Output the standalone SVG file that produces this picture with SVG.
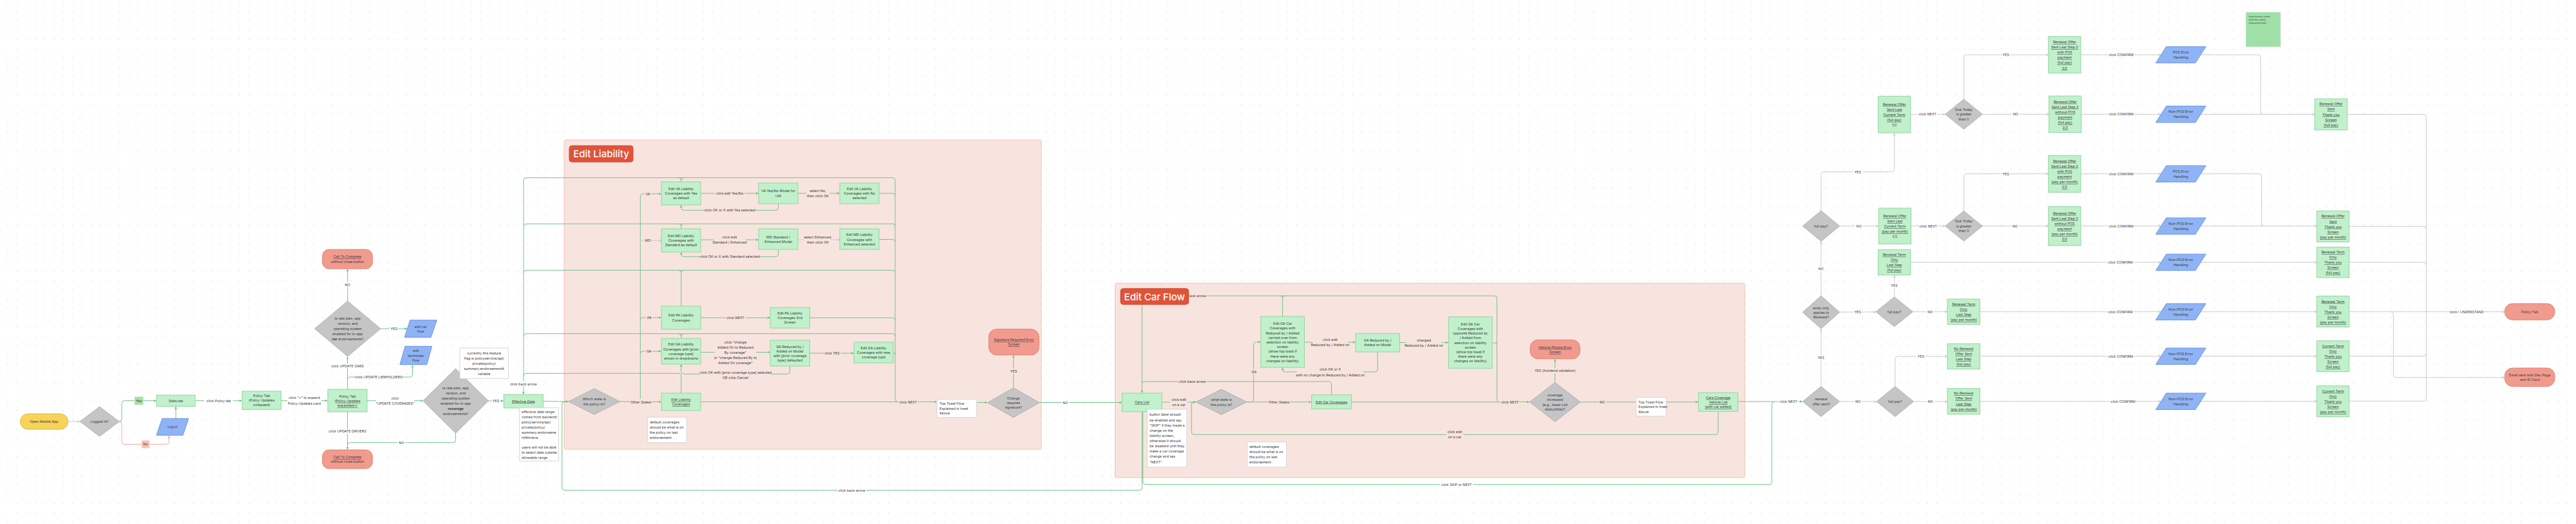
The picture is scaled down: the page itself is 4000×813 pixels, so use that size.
<svg xmlns="http://www.w3.org/2000/svg" width="4000" height="813" viewBox="0 0 4000 813">
<defs>
<style>
.t{font-family:Inter,"Liberation Sans",sans-serif;font-size:5.4px;fill:#3a3a3a;text-anchor:middle;dominant-baseline:central}
.s{text-anchor:start}
.u{text-decoration:underline}
.b{font-weight:700}
.nd{fill:#c0f1cb;stroke:#93d4a3;stroke-width:1}
.rd{fill:#f19b8e;stroke:#e3826f;stroke-width:1}
.dm{fill:#c5c5c5;stroke:#b2b2b2;stroke-width:1}
.bl{fill:#8fb4f6;stroke:#6c94e6;stroke-width:1}
.nt{fill:#fff;stroke:#d6d6d6;stroke-width:1}
.g{fill:none;stroke:#72c48b;stroke-width:1}
.gr{fill:none;stroke:#cbcbcb;stroke-width:1}
.rl{fill:none;stroke:#f2a99c;stroke-width:1}
.lw{fill:#fff}
.lp{fill:#f8e4de}
.area{fill:#f8e4de;stroke:#f5c0b2;stroke-width:1}
.ttlb{fill:#e0533a;stroke:#d24a32;stroke-width:1}
.ttl{font-family:Inter,"Liberation Sans",sans-serif;font-size:15px;font-weight:500;fill:#fff;text-anchor:middle;dominant-baseline:central}
</style>
<pattern id="dots" width="14.4" height="14.4" patternUnits="userSpaceOnUse" x="11" y="2.5"><circle cx="1" cy="1" r="0.7" fill="#d2d2d2"/></pattern>
<marker id="ag" viewBox="0 0 6 6" refX="5.5" refY="3" markerWidth="4" markerHeight="4" orient="auto" markerUnits="userSpaceOnUse"><path d="M0,0 L6,3 L0,6 z" fill="#72c48b"/></marker>
<marker id="ak" viewBox="0 0 6 6" refX="5.5" refY="3" markerWidth="4.5" markerHeight="4.5" orient="auto" markerUnits="userSpaceOnUse"><path d="M0.5,0.5 L5.5,3 L0.5,5.5" fill="none" stroke="#bdbdbd" stroke-width="1"/></marker>
<marker id="ar" viewBox="0 0 6 6" refX="5.5" refY="3" markerWidth="4" markerHeight="4" orient="auto" markerUnits="userSpaceOnUse"><path d="M0,0 L6,3 L0,6 z" fill="#f2a394"/></marker>
</defs>
<rect width="4000" height="813" fill="#fff"/>
<rect width="4000" height="813" fill="url(#dots)"/>

<g id="area-edit-liability"><rect class="area" x="876" y="217" width="741" height="480" rx="3"/></g>
<g id="area-edit-car-flow"><rect class="area" x="1731.5" y="439.3" width="977.8" height="301.7" rx="3"/></g>

<g id="connectors">
<!-- left -->
<path class="gr" d="M105.7,654 L123.5,654" marker-end="url(#ak)"/>
<path class="g" d="M185.1,654 Q189,654 189,650 L189,625.7 Q189,621.7 193,621.7 L242.5,621.7" marker-end="url(#ag)"/>
<path class="rl" d="M185.1,654 Q189,654 189,658 L189,685.3 Q189,689.3 193,689.3 L258.5,689.3 Q262.5,689.3 262.5,685.3 L262.5,676" marker-end="url(#ar)"/>
<path class="g" d="M273,649.3 L273,631" marker-end="url(#ag)"/>
<path class="g" d="M303,621.7 L375.5,621.7" marker-end="url(#ag)"/>
<path class="g" d="M436.4,621.7 L508.5,621.7" marker-end="url(#ag)"/>
<path class="g" d="M539.5,604 L539.5,553.5" marker-end="url(#ag)"/>
<path class="g" d="M539.5,590 Q539.5,585 544.5,585 L636.5,585 Q640.5,585 640.5,581 L640.5,566.5" marker-end="url(#ag)"/>
<path class="g" d="M539.8,467 L539.8,417.5" marker-end="url(#ag)"/>
<path class="g" d="M591,510 L632,510" marker-end="url(#ag)"/>
<path class="g" d="M539.5,639 L539.5,697.5" marker-end="url(#ag)"/>
<path class="g" d="M570,621.7 L656.2,621.7" marker-end="url(#ag)"/>
<path class="g" d="M707.5,672 L707.5,682.7 Q707.5,686.7 703.5,686.7 L543.5,686.7 Q539.5,686.7 539.5,690.7"/>
<path class="g" d="M758.3,622 L781.8,622" marker-end="url(#ag)"/>
<path class="g" d="M843.3,622.5 L882.2,623" marker-end="url(#ag)"/>
<!-- liability back lines -->
<path class="g" d="M1390,620 L1390,279.7 Q1390,275.7 1386,275.7 L817,275.7 Q813,275.7 813,279.7 L813,611.5" marker-end="url(#ag)"/>
<path class="g" d="M1390,351.3 Q1390,347.3 1386,347.3 L817,347.3 Q813,347.3 813,351.3"/>
<path class="g" d="M1390,423.3 Q1390,419.3 1386,419.3 L817,419.3 Q813,419.3 813,423.3"/>
<path class="g" d="M1390,521.7 Q1390,517.7 1386,517.7 L817,517.7 Q813,517.7 813,521.7"/>
<path class="g" d="M1057.7,610 L1057.7,583.3 Q1057.7,579.3 1053.7,579.3 L817,579.3 Q813,579.3 813,583.3"/>
<path class="g" d="M1057.7,282 L1057.7,279.7 Q1057.7,275.7 1053.7,275.7 M1057.7,279.7 Q1057.7,275.7 1061.7,275.7"/>
<path class="g" d="M1057.7,355 L1057.7,351.3 Q1057.7,347.3 1053.7,347.3 M1057.7,351.3 Q1057.7,347.3 1061.7,347.3"/>
<path class="g" d="M1057.7,475 L1057.7,423.3 Q1057.7,419.3 1053.7,419.3 M1057.7,423.3 Q1057.7,419.3 1061.7,419.3"/>
<path class="g" d="M1057.7,525 L1057.7,521.7 Q1057.7,517.7 1053.7,517.7 M1057.7,521.7 Q1057.7,517.7 1061.7,517.7"/>
<path class="g" d="M1365,300 L1386,300 Q1390,300 1390,304"/>
<path class="g" d="M1365,371.5 L1386,371.5 Q1390,371.5 1390,375.5"/>
<path class="g" d="M1257.3,493 L1386,493 Q1390,493 1390,497"/>
<path class="g" d="M1387,547 Q1390,547 1390,551"/>
<path class="g" d="M1390,619.5 Q1390,623.5 1394,623.5"/>
<!-- state branches -->
<path class="g" d="M994.3,619 L994.3,304.7 Q994.3,300.7 998.3,300.7 L1026.5,300.7" marker-end="url(#ag)"/>
<path class="gr" d="M994.3,377.3 Q994.3,373.3 998.3,373.3 L1026.5,373.3" marker-end="url(#ak)"/>
<path class="g" d="M994.3,496.7 Q994.3,492.7 998.3,492.7 L1026.5,492.7" marker-end="url(#ag)"/>
<path class="g" d="M994.3,549 Q994.3,545 998.3,545 L1026.5,545" marker-end="url(#ag)"/>
<path class="g" d="M962.7,623 L1026.5,623.5" marker-end="url(#ag)"/>
<!-- liability rows -->
<path class="g" d="M1088,300 L1177.5,300" marker-end="url(#ag)"/>
<path class="g" d="M1239,300 L1303.5,300" marker-end="url(#ag)"/>
<path class="g" d="M1208.5,316 L1208.5,322.3 Q1208.5,326.3 1204.5,326.3 L1061.7,326.3 Q1057.7,326.3 1057.7,322.3 L1057.7,318.5" marker-end="url(#ag)"/>
<path class="g" d="M1088,372 L1177.5,372" marker-end="url(#ag)"/>
<path class="gr" d="M1239,372 L1303.5,372" marker-end="url(#ak)"/>
<path class="g" d="M1208.5,387 L1208.5,394.3 Q1208.5,398.3 1204.5,398.3 L1061.7,398.3 Q1057.7,398.3 1057.7,394.3 L1057.7,391.5" marker-end="url(#ag)"/>
<path class="g" d="M1088,493 L1195.5,493" marker-end="url(#ag)"/>
<path class="g" d="M1088,546.5 L1195.5,546.5" marker-end="url(#ag)"/>
<path class="g" d="M1257,548 L1325.5,548" marker-end="url(#ag)"/>
<path class="g" d="M1226.5,568 L1226.5,576.3 Q1226.5,580.3 1222.5,580.3 L1061.7,580.3 Q1057.7,580.3 1057.7,576.3 L1057.7,565.5" marker-end="url(#ag)"/>
<path class="g" d="M1088,623.5 L1454.5,623.5" marker-end="url(#ag)"/>
<path class="g" d="M1516.3,624.5 L1533,624.5" marker-end="url(#ag)"/>
<path class="g" d="M1573.7,601.7 L1573.7,551.2" marker-end="url(#ag)"/>
<path class="g" d="M1614,624.5 L1742,624.5" marker-end="url(#ag)"/>
<!-- bottom back arrow -->
<path class="g" d="M1773.3,639 L1773.3,756.7 Q1773.3,760.7 1769.3,760.7 L876.7,760.7 Q872.7,760.7 872.7,756.7 L872.7,627 Q872.7,623 876.7,623 L882.2,623" marker-end="url(#ag)"/>
<!-- car region -->
<path class="g" d="M2324.5,619.5 L2324.5,463 Q2324.5,459 2320.5,459 L1777.3,459 Q1773.3,459 1773.3,463 L1773.3,609.5" marker-end="url(#ag)"/>
<path class="g" d="M1991.6,491 L1991.6,463 Q1991.6,459 1987.6,459 M1991.6,463 Q1991.6,459 1995.6,459"/>
<path class="g" d="M2317,531.7 L2320.5,531.7 Q2324.5,531.7 2324.5,535.7"/>
<path class="g" d="M2324.5,619.5 Q2324.5,623.6 2328.5,623.6"/>
<path class="g" d="M1804.2,624 L1856.7,624" marker-end="url(#ag)"/>
<path class="g" d="M1936,623.7 L1942.6,623.7 Q1946.6,623.7 1946.6,619.7 L1946.6,534.7 Q1946.6,530.7 1950.6,530.7 L1957.3,530.7" marker-end="url(#ag)"/>
<path class="g" d="M1936,623.7 L2036.2,623.7" marker-end="url(#ag)"/>
<path class="g" d="M2025.5,531 L2104.5,531" marker-end="url(#ag)"/>
<path class="g" d="M2139.2,546 L2139.2,573 Q2139.2,577 2135.2,577 L1995.6,577 Q1991.6,577 1991.6,573 L1991.6,570.5" marker-end="url(#ag)"/>
<path class="g" d="M2173.5,531.5 L2248.9,531.5" marker-end="url(#ag)"/>
<path class="g" d="M2067.6,612.7 L2067.6,596 Q2067.6,592 2063.6,592 L1777.3,592 Q1773.3,592 1773.3,596"/>
<path class="g" d="M2098.5,623.6 L2374.6,623.6" marker-end="url(#ag)"/>
<path class="g" d="M2414.6,593.3 L2414.6,557.2" marker-end="url(#ag)"/>
<path class="g" d="M2454.1,623.8 L2636.8,623.8" marker-end="url(#ag)"/>
<path class="g" d="M2668,638.3 L2668,670.3 Q2668,674.3 2664,674.3 L1854.1,674.3 Q1850.1,674.3 1850.1,670.3 L1850.1,627.7 Q1850.1,623.7 1854.1,623.7 L1856.7,623.7" marker-end="url(#ag)"/>
<path class="g" d="M2698.6,623 L2798.6,623" marker-end="url(#ag)"/>
<path class="g" d="M1774.7,639 L1774.7,747.7 Q1774.7,751.7 1778.7,751.7 L2747.3,751.7 Q2751.3,751.7 2751.3,747.7 L2751.3,627 Q2751.3,623 2755.3,623"/>
<!-- right region gray -->
<path class="gr" d="M2827.8,327 L2827.8,270.7 Q2827.8,266.7 2831.8,266.7 L2937.5,266.7 Q2941.5,266.7 2941.5,262.7 L2941.5,206.8" marker-end="url(#ak)"/>
<path class="gr" d="M2856.5,350.7 L2916.5,350.7" marker-end="url(#ak)"/>
<path class="gr" d="M2966.6,177.4 L3020,177.4" marker-end="url(#ak)"/>
<path class="gr" d="M2967.4,350.7 L3020,350.7" marker-end="url(#ak)"/>
<path class="gr" d="M3049.4,154 L3049.4,89 Q3049.4,85 3053.4,85 L3180.3,85" marker-end="url(#ak)"/>
<path class="gr" d="M3078.3,177.3 L3181.1,177.3" marker-end="url(#ak)"/>
<path class="gr" d="M3049.4,327.3 L3049.4,273.7 Q3049.4,269.7 3053.4,269.7 L3180.3,269.7" marker-end="url(#ak)"/>
<path class="gr" d="M3078.3,350.7 L3180.3,350.7" marker-end="url(#ak)"/>
<path class="gr" d="M2827.8,459 L2827.8,375" marker-end="url(#ak)"/>
<path class="gr" d="M2827.8,599.6 L2827.8,510.6" marker-end="url(#ak)"/>
<path class="gr" d="M2856.5,484.2 L2912.3,484" marker-end="url(#ak)"/>
<path class="gr" d="M2941.5,460.7 L2941.5,427.3" marker-end="url(#ak)"/>
<path class="gr" d="M2970.2,483.7 L3023.5,483.7" marker-end="url(#ak)"/>
<path class="gr" d="M2856.5,623 L2913.5,623" marker-end="url(#ak)"/>
<path class="gr" d="M2942.7,599.6 L2942.7,557 Q2942.7,553 2946.7,553 L3023.5,553" marker-end="url(#ak)"/>
<path class="gr" d="M2971.4,623 L3023.5,623" marker-end="url(#ak)"/>
<path class="gr" d="M3231,85 L3355,85" marker-end="url(#ak)"/>
<path class="gr" d="M3231.8,177.3 L3355,177.3" marker-end="url(#ak)"/>
<path class="gr" d="M3231,269.7 L3355,269.7" marker-end="url(#ak)"/>
<path class="gr" d="M3231,350.7 L3355,350.7" marker-end="url(#ak)"/>
<path class="gr" d="M2966.6,407 L3355,407" marker-end="url(#ak)"/>
<path class="gr" d="M3074.3,483.7 L3355,483.7" marker-end="url(#ak)"/>
<path class="gr" d="M3074.3,552.7 L3355,552.7" marker-end="url(#ak)"/>
<path class="gr" d="M3074.3,622.7 L3355,622.7" marker-end="url(#ak)"/>
<path class="gr" d="M3417,85 L3506.2,85 Q3510.2,85 3510.2,89 L3510.2,173.3 Q3510.2,177.3 3514.2,177.3"/>
<path class="gr" d="M3401,177.3 L3593.8,177.3" marker-end="url(#ak)"/>
<path class="gr" d="M3417,269.7 L3507.8,269.7 Q3511.8,269.7 3511.8,273.7 L3511.8,346.7 Q3511.8,350.7 3515.8,350.7"/>
<path class="gr" d="M3401,350.7 L3597.1,350.7" marker-end="url(#ak)"/>
<path class="gr" d="M3401,407 L3597.1,407" marker-end="url(#ak)"/>
<path class="gr" d="M3401,483.7 L3597.1,483.7" marker-end="url(#ak)"/>
<path class="gr" d="M3401,552.7 L3597.1,552.7" marker-end="url(#ak)"/>
<path class="gr" d="M3401,622.7 L3597.1,622.7" marker-end="url(#ak)"/>
<path class="gr" d="M3767.4,181.5 L3767.4,618.3"/>
<path class="gr" d="M3644.9,177.5 L3763.4,177.5 Q3767.4,177.5 3767.4,181.5"/>
<path class="gr" d="M3647.8,351.3 L3763.4,351.3 Q3767.4,351.3 3767.4,355.3"/>
<path class="gr" d="M3647.8,407 L3763.4,407 Q3767.4,407 3767.4,411"/>
<path class="gr" d="M3647.8,483.7 L3888.9,483.7" marker-end="url(#ak)"/>
<path class="gr" d="M3647.8,552.7 L3763.4,552.7 Q3767.4,552.7 3767.4,548.7"/>
<path class="gr" d="M3647.8,622.3 L3763.4,622.3 Q3767.4,622.3 3767.4,618.3"/>
<path class="gr" d="M3712.4,483.7 Q3716.4,483.7 3716.4,487.7 L3716.4,581.7 Q3716.4,585.7 3720.4,585.7 L3888.9,585.7" marker-end="url(#ak)"/>

<!-- labels -->
<rect x="209" y="615.5" width="13.5" height="12.5" fill="#a6e2a6"/><text class="t" x="215.7" y="621.7">Yes</text>
<rect x="220" y="683.3" width="12" height="12" fill="#f9c3b8"/><text class="t" x="226" y="689.3">No</text>
<rect class="lw" x="317" y="618" width="45" height="7.5"/><text class="t" x="339.6" y="621.7">click Policy tab</text>
<rect class="lw" x="446" y="613.5" width="53" height="16"/><text class="t" x="472.5" y="617.3">click "+" to expand</text><text class="t" x="472.5" y="625.7">Policy Updates card</text>
<rect class="lw" x="513" y="564" width="53" height="7.5"/><text class="t" x="539.5" y="567.7">click UPDATE CARS</text>
<rect class="lw" x="552" y="581.3" width="72" height="7.5"/><text class="t" x="588" y="585">click UPDATE LIENHOLDERS</text>
<rect class="lw" x="534" y="438" width="11" height="7.5"/><text class="t" x="539.5" y="441.7">NO</text>
<rect class="lw" x="605" y="506.3" width="13" height="7.5"/><text class="t" x="611.7" y="510">YES</text>
<rect class="lw" x="509" y="665.6" width="61" height="7.5"/><text class="t" x="539.5" y="669.3">click UPDATE DRIVERS</text>
<rect class="lw" x="584" y="614.3" width="59" height="16"/><text class="t" x="613.3" y="618.3">click</text><text class="t" x="613.3" y="626.3">"UPDATE COVERAGES"</text>
<rect class="lw" x="617.5" y="683" width="11.5" height="7.5"/><text class="t" x="623.3" y="686.7">NO</text>
<rect class="lw" x="763.5" y="618" width="13" height="7.5"/><text class="t" x="770" y="621.7">YES</text>
<rect class="lw" x="790.5" y="592" width="44.5" height="7.5"/><text class="t" x="812.7" y="595.7">click back arrow</text>
<rect class="lp" x="1001" y="297" width="10" height="7.5"/><text class="t" x="1006" y="300.7">VA</text>
<rect class="lp" x="1000.5" y="369.6" width="11" height="7.5"/><text class="t" x="1006" y="373.3">MD</text>
<rect class="lp" x="1003" y="489" width="10.5" height="7.5"/><text class="t" x="1008.3" y="492.7">PA</text>
<rect class="lp" x="1002.5" y="541.3" width="10.5" height="7.5"/><text class="t" x="1007.7" y="545">GA</text>
<rect class="lp" x="978.5" y="619.8" width="33" height="7.5"/><text class="t" x="995" y="623.5">Other States</text>
<rect class="lp" x="1110" y="296.3" width="46" height="7.5"/><text class="t" x="1133" y="300">click edit Yes/No</text>
<rect class="lp" x="1252" y="292" width="36" height="16"/><text class="t" x="1270" y="296">select No,</text><text class="t" x="1270" y="304">then click OK</text>
<rect class="lp" x="1093" y="322.6" width="80" height="7.5"/><text class="t" x="1133" y="326.3">click OK or X with Yes selected</text>
<rect class="lp" x="1108" y="364" width="50" height="16"/><text class="t" x="1133" y="368">click edit</text><text class="t" x="1133" y="376">Standard / Enhanced</text>
<rect class="lp" x="1248" y="364" width="44" height="16"/><text class="t" x="1270" y="368">select Enhanced,</text><text class="t" x="1270" y="376">then click OK</text>
<rect class="lp" x="1087" y="394.6" width="92" height="7.5"/><text class="t" x="1133" y="398.3">click OK or X with Standard selected</text>
<rect class="lp" x="1127" y="489.3" width="30" height="7.5"/><text class="t" x="1142" y="493">click NEXT</text>
<rect class="lp" x="1110" y="527" width="64" height="40"/>
<text class="t" x="1142" y="530.7">click "change</text><text class="t" x="1142" y="538.7">Added On to Reduced</text><text class="t" x="1142" y="546.7">By coverage"</text><text class="t" x="1142" y="555">or "change Reduced By to</text><text class="t" x="1142" y="563">Added On coverage"</text>
<rect class="lp" x="1086" y="574" width="112" height="16"/><text class="t" x="1142" y="578">click OK with [prior coverage type] selected</text><text class="t" x="1142" y="586">OR click Cancel</text>
<rect class="lp" x="1279" y="544.3" width="26" height="7.5"/><text class="t" x="1292" y="548">click YES</text>
<rect class="lp" x="1395" y="619.8" width="30" height="7.5"/><text class="t" x="1410" y="623.5">click NEXT</text>
<rect class="lp" x="1567.5" y="572" width="13" height="7.5"/><text class="t" x="1574" y="575.7">YES</text>
<rect class="lw" x="1648.5" y="620.8" width="12" height="7.5"/><text class="t" x="1654.4" y="624.5">NO</text>
<rect class="lp" x="1830" y="455.3" width="44" height="7.5"/><text class="t" x="1852" y="459">click back arrow</text>
<rect class="lp" x="1829.5" y="588.3" width="44" height="7.5"/><text class="t" x="1851.5" y="592">click back arrow</text>
<rect class="lp" x="1817" y="616" width="27" height="16"/><text class="t" x="1830.5" y="620">click edit</text><text class="t" x="1830.5" y="628">on a car</text>
<rect class="lp" x="1942" y="573.3" width="10.5" height="7.5"/><text class="t" x="1947.3" y="577">GA</text>
<rect class="lp" x="1969.5" y="620" width="33" height="7.5"/><text class="t" x="1985.9" y="623.7">Other States</text>
<rect class="lp" x="2038" y="523" width="55" height="16"/><text class="t" x="2065.5" y="527">click edit</text><text class="t" x="2065.5" y="535">Reduced by / Added on</text>
<rect class="lp" x="2014" y="569.3" width="103" height="16"/><text class="t" x="2065.5" y="573.3">click OK or X</text><text class="t" x="2065.5" y="581.7">with no change to Reduced by / Added on</text>
<rect class="lp" x="2183.5" y="523.7" width="55" height="16"/><text class="t" x="2211" y="527.7">changed</text><text class="t" x="2211" y="535.7">Reduced by / Added on</text>
<rect class="lp" x="2329.5" y="620" width="30" height="7.5"/><text class="t" x="2344.7" y="623.7">click NEXT</text>
<rect class="lp" x="2382" y="571.3" width="65" height="7.5"/><text class="t" x="2414.7" y="575">YES (frontend validation)</text>
<rect class="lp" x="2482" y="620" width="12" height="7.5"/><text class="t" x="2487.8" y="623.7">NO</text>
<rect class="lp" x="2245.5" y="666.3" width="27" height="16"/><text class="t" x="2258.9" y="670.3">click edit</text><text class="t" x="2258.9" y="678.3">on a car</text>
<rect class="lw" x="2236" y="748.3" width="51.5" height="7.5"/><text class="t" x="2261.7" y="752">click SKIP or NEXT</text>
<rect class="lw" x="1300.5" y="757" width="44.5" height="7.5"/><text class="t" x="1322.7" y="760.7">click back arrow</text>
<rect class="lw" x="2762" y="619.3" width="30" height="7.5"/><text class="t" x="2777" y="623">click NEXT</text>
<!-- right labels -->
<rect class="lw" x="2878" y="263" width="13" height="7.5"/><text class="t" x="2884.6" y="266.7">YES</text>
<rect class="lw" x="2880.5" y="347" width="12" height="7.5"/><text class="t" x="2886.7" y="350.7">NO</text>
<rect class="lw" x="2978" y="173.6" width="30" height="7.5"/><text class="t" x="2993" y="177.3">click NEXT</text>
<rect class="lw" x="2979" y="347" width="30" height="7.5"/><text class="t" x="2994" y="350.7">click NEXT</text>
<rect class="lw" x="3108" y="81.3" width="13" height="7.5"/><text class="t" x="3114.5" y="85">YES</text>
<rect class="lw" x="3123.8" y="173.6" width="12" height="7.5"/><text class="t" x="3129.8" y="177.3">NO</text>
<rect class="lw" x="3108" y="266" width="13" height="7.5"/><text class="t" x="3114.5" y="269.7">YES</text>
<rect class="lw" x="3123" y="347" width="12" height="7.5"/><text class="t" x="3129" y="350.7">NO</text>
<rect class="lw" x="2821.6" y="413.3" width="12" height="7.5"/><text class="t" x="2827.6" y="417">NO</text>
<rect class="lw" x="2821" y="551.3" width="13" height="7.5"/><text class="t" x="2827.6" y="555">YES</text>
<rect class="lw" x="2878" y="480.5" width="13" height="7.5"/><text class="t" x="2884.6" y="484.2">YES</text>
<rect class="lw" x="2934.8" y="439.6" width="13" height="7.5"/><text class="t" x="2941.3" y="443.3">YES</text>
<rect class="lw" x="2991" y="480" width="12" height="7.5"/><text class="t" x="2997" y="483.7">NO</text>
<rect class="lw" x="2879" y="619.3" width="12" height="7.5"/><text class="t" x="2885" y="623">NO</text>
<rect class="lw" x="2976" y="549.3" width="13" height="7.5"/><text class="t" x="2982.7" y="553">YES</text>
<rect class="lw" x="2991.6" y="619.3" width="12" height="7.5"/><text class="t" x="2997.6" y="623">NO</text>
<rect class="lw" x="3273" y="81.3" width="41" height="7.5"/><text class="t" x="3293.7" y="85">click CONFIRM</text>
<rect class="lw" x="3273" y="173.6" width="41" height="7.5"/><text class="t" x="3293.7" y="177.3">click CONFIRM</text>
<rect class="lw" x="3273" y="266" width="41" height="7.5"/><text class="t" x="3293.7" y="269.7">click CONFIRM</text>
<rect class="lw" x="3273" y="347" width="41" height="7.5"/><text class="t" x="3293.7" y="350.7">click CONFIRM</text>
<rect class="lw" x="3272" y="403.3" width="41" height="7.5"/><text class="t" x="3292.5" y="407">click CONFIRM</text>
<rect class="lw" x="3272" y="480" width="41" height="7.5"/><text class="t" x="3292.5" y="483.7">click CONFIRM</text>
<rect class="lw" x="3272.5" y="549" width="41" height="7.5"/><text class="t" x="3293" y="552.7">click CONFIRM</text>
<rect class="lw" x="3276" y="619" width="41" height="7.5"/><text class="t" x="3296.5" y="622.7">click CONFIRM</text>
<rect class="lw" x="3804" y="480" width="53" height="7.5"/><text class="t" x="3830.2" y="483.7">click I UNDERSTAND</text>
</g>

<!-- LEFT NODES -->
<g id="n-open-app"><rect x="31.4" y="642" width="74.3" height="24" rx="12" fill="#f7d35a" stroke="#dfb93f"/><text class="t" x="68.5" y="654">Open Mobile App</text></g>
<g id="n-logged-in"><polygon class="dm" points="124.1,654 154.6,631 185.1,654 154.6,677"/><text class="t" x="154.6" y="654">Logged in?</text></g>
<g id="n-stats-tab"><rect class="nd" x="243" y="613" width="60" height="17.4"/><text class="t" x="273" y="621.7">Stats tab</text></g>
<g id="n-log-in"><polygon class="bl" points="251.8,649.3 292.9,649.3 284,675.3 242.9,675.3"/><text class="t" x="268" y="662.3">Log in</text></g>
<g id="n-policy-collapsed"><rect class="nd" x="376" y="607" width="60.4" height="28.4"/><text class="t" x="406.2" y="614">Policy Tab</text><text class="t" x="406.2" y="621.2">(Policy Updates</text><text class="t" x="406.2" y="628.4">collapsed)</text></g>
<g id="n-policy-expanded"><rect class="nd" x="509" y="604" width="61" height="35"/><text class="t" x="539.5" y="614.5">Policy Tab</text><text class="t" x="539.5" y="621.8"><tspan>(</tspan><tspan class="u">Policy Updates</tspan></text><text class="t u" x="539.5" y="629.2">expanded+)</text></g>
<g id="n-call-top"><rect class="rd" x="500.7" y="387" width="77.6" height="30" rx="10"/><text class="t u" x="539.5" y="398.3">Call To Complete</text><text class="t" x="539.5" y="405.7">without close button</text></g>
<g id="n-car-enabled"><polygon class="dm" points="488.6,510 539.8,467 591,510 539.8,553"/><text class="t" x="539.8" y="494">Is rate plan, app</text><text class="t" x="539.8" y="502">version, and</text><text class="t" x="539.8" y="510.2">operating system</text><text class="t" x="539.8" y="518.2">enabled for in-app</text><text class="t" x="539.8" y="526"><tspan class="b">car</tspan> endorsements?</text></g>
<g id="n-edit-car-flow"><polygon class="bl" points="636.7,496.7 678.3,496.7 669.3,523.3 628.3,523.3"/><text class="t" x="653.3" y="506.7">edit car</text><text class="t" x="653.3" y="514">flow</text></g>
<g id="n-edit-lienholder"><polygon class="bl" points="629,537.3 670.7,537.3 662.7,565.7 621,565.7"/><text class="t" x="645.8" y="544.3">edit</text><text class="t" x="645.8" y="551.7">lienholder</text><text class="t" x="645.8" y="559">flow</text></g>
<g id="n-call-bottom"><rect class="rd" x="500.7" y="698" width="77.6" height="29" rx="10"/><text class="t u" x="539.5" y="709">Call To Complete</text><text class="t" x="539.5" y="716.3">without close button</text></g>
<g id="n-coverage-enabled"><polygon class="dm" points="656.7,622 707.5,572 758.3,622 707.5,672"/><text class="t" x="707.5" y="602.3">Is rate plan, app</text><text class="t" x="707.5" y="610.3">version, and</text><text class="t" x="707.5" y="618.3">operating system</text><text class="t" x="707.5" y="626.3">enabled for in-app</text><text class="t b" x="707.5" y="634.3">coverage</text><text class="t" x="707.5" y="642.3">endorsements?</text></g>
<g id="n-note-flag"><rect class="nt" x="714" y="540" width="75.3" height="47.3"/><text class="t" x="751.7" y="547.7">currently this feature</text><text class="t" x="751.7" y="555.7">flag is policyservice/api/</text><text class="t" x="751.7" y="563.7">private/policy/</text><text class="t" x="751.7" y="572">summary.endorsementA</text><text class="t" x="751.7" y="580">vailable</text></g>
<g id="n-effective-date"><rect class="nd" x="782.3" y="612" width="61" height="21"/><text class="t u" x="812.8" y="622.5">Effective Date</text></g>
<g id="n-note-date"><rect class="nt" x="806.7" y="632.7" width="60.6" height="82.6"/><text class="t s" x="810" y="639">effective date range</text><text class="t s" x="810" y="647">comes from backend:</text><text class="t s" x="810" y="655">policyservice/api/</text><text class="t s" x="810" y="663">private/policy/</text><text class="t s" x="810" y="671">summary.endorseme</text><text class="t s" x="810" y="679">ntWindow</text><text class="t s" x="810" y="694">users will not be able</text><text class="t s" x="810" y="702">to select date outside</text><text class="t s" x="810" y="710">allowable range</text></g>

<!-- EDIT LIABILITY -->
<g id="title-edit-liability"><rect class="ttlb" x="884" y="226" width="99" height="25.3" rx="4"/><text class="ttl" x="933.5" y="238.8">Edit Liability</text></g>
<g id="n-which-state"><polygon class="dm" points="882.7,623 922.7,603 962.7,623 922.7,643"/><text class="t" x="922.7" y="619">Which state is</text><text class="t" x="922.7" y="627">the policy in?</text></g>
<g id="n-va-default"><rect class="nd" x="1027" y="282" width="61" height="36"/><text class="t" x="1057.5" y="292.7">Edit VA Liability</text><text class="t" x="1057.5" y="300">Coverages with Yes</text><text class="t" x="1057.5" y="307.3">as default</text></g>
<g id="n-va-modal"><rect class="nd" x="1178" y="284" width="61" height="32"/><text class="t" x="1208.5" y="296.3">VA Yes/No Modal for</text><text class="t" x="1208.5" y="303.6">UM</text></g>
<g id="n-va-no"><rect class="nd" x="1304" y="284" width="61" height="32"/><text class="t" x="1334.5" y="292.7">Edit VA Liability</text><text class="t" x="1334.5" y="300">Coverages with No</text><text class="t" x="1334.5" y="307.3">selected</text></g>
<g id="n-md-default"><rect class="nd" x="1027" y="355" width="61" height="36"/><text class="t" x="1057.5" y="365.7">Edit MD Liability</text><text class="t" x="1057.5" y="373">Coverages with</text><text class="t" x="1057.5" y="380.3">Standard as default</text></g>
<g id="n-md-modal"><rect class="nd" x="1178" y="355" width="61" height="32"/><text class="t" x="1208.5" y="367.5">MD Standard /</text><text class="t" x="1208.5" y="374.8">Enhanced Modal</text></g>
<g id="n-md-enhanced"><rect class="nd" x="1304" y="355" width="61" height="32"/><text class="t" x="1334.5" y="364.3">Edit MD Liability</text><text class="t" x="1334.5" y="371.6">Coverages with</text><text class="t" x="1334.5" y="378.9">Enhanced selected</text></g>
<g id="n-pa"><rect class="nd" x="1027" y="475" width="61" height="36"/><text class="t" x="1057.5" y="489.3">Edit PA Liability</text><text class="t" x="1057.5" y="496.7">Coverages</text></g>
<g id="n-pa-2nd"><rect class="nd" x="1196" y="477" width="61.3" height="32"/><text class="t" x="1226.6" y="485.7">Edit PA Liability</text><text class="t" x="1226.6" y="493">Coverages 2nd</text><text class="t" x="1226.6" y="500.3">Screen</text></g>
<g id="n-ga"><rect class="nd" x="1027" y="525" width="61" height="40"/><text class="t" x="1057.5" y="534.3">Edit GA Liability</text><text class="t" x="1057.5" y="541.5">Coverages with [prior</text><text class="t" x="1057.5" y="548.7">coverage type]</text><text class="t" x="1057.5" y="555.9">shown in dropdowns</text></g>
<g id="n-ga-modal"><rect class="nd" x="1196" y="528" width="61.3" height="40"/><text class="t" x="1226.6" y="537.5">GA Reduced by /</text><text class="t" x="1226.6" y="544.8">Added on Modal</text><text class="t" x="1226.6" y="552.1">with [prior coverage</text><text class="t" x="1226.6" y="559.4">type] defaulted</text></g>
<g id="n-ga-new"><rect class="nd" x="1326" y="531" width="61" height="32"/><text class="t" x="1356.5" y="539.7">Edit GA Liability</text><text class="t" x="1356.5" y="547">Coverages with new</text><text class="t" x="1356.5" y="554.3">coverage type</text></g>
<g id="n-edit-liability-cov"><rect class="nd" x="1027" y="610" width="61" height="27"/><text class="t u" x="1057.5" y="620">Edit Liability</text><text class="t u" x="1057.5" y="627.4">Coverages</text></g>
<g id="n-note-default-liab"><rect class="nt" x="1005.7" y="647.3" width="60.6" height="39.4"/><text class="t s" x="1009" y="655">default coverages</text><text class="t s" x="1009" y="663">should be what is on</text><text class="t s" x="1009" y="671.3">the policy on last</text><text class="t s" x="1009" y="679.3">endorsement</text></g>
<g id="n-top-toast-1"><rect class="nt" x="1455" y="619.3" width="61.3" height="28.4"/><text class="t s" x="1458.7" y="626.3">Top Toast Flow</text><text class="t s" x="1458.7" y="633.7">Explained in Inset</text><text class="t s" x="1458.7" y="641">Above</text></g>
<g id="n-change-sig"><polygon class="dm" points="1533.4,624.7 1573.7,601.7 1614,624.7 1573.7,647.7"/><text class="t" x="1573.7" y="617.7">Change</text><text class="t" x="1573.7" y="624.7">requires</text><text class="t" x="1573.7" y="632">signature?</text></g>
<g id="n-sig-error"><rect class="rd" x="1535.3" y="510.7" width="78" height="40" rx="12"/><text class="t u" x="1574.3" y="527">Signature Required Error</text><text class="t u" x="1574.3" y="534.3">Screen</text></g>

<!-- EDIT CAR FLOW -->
<g id="title-edit-car-flow"><rect class="ttlb" x="1740" y="447.7" width="105.6" height="24.6" rx="4"/><text class="ttl" x="1792.8" y="460.2">Edit Car Flow</text></g>
<g id="n-cars-list"><rect class="nd" x="1742.4" y="610" width="61.8" height="28.7"/><text class="t u" x="1773.3" y="624.4">Cars List</text></g>
<g id="n-note-button"><rect class="nt" x="1781.4" y="635" width="61.4" height="89.7"/><text class="t s" x="1785" y="643.3">button label should</text><text class="t s" x="1785" y="651.5">be enabled and say</text><text class="t s" x="1785" y="659.7">"SKIP" if they made a</text><text class="t s" x="1785" y="667.8">change on the</text><text class="t s" x="1785" y="676">liability screen,</text><text class="t s" x="1785" y="684">otherwise it should</text><text class="t s" x="1785" y="692.2">be disabled until they</text><text class="t s" x="1785" y="700.3">make a car coverage</text><text class="t s" x="1785" y="708.4">change and say</text><text class="t s" x="1785" y="716.5">"NEXT"</text></g>
<g id="n-what-state"><polygon class="dm" points="1857.2,623.7 1896.6,604 1936,623.7 1896.6,643.4"/><text class="t" x="1896.6" y="620">what state is</text><text class="t" x="1896.6" y="627.6">the policy is?</text></g>
<g id="n-ga-car"><rect class="nd" x="1957.8" y="491" width="67.7" height="79"/><text class="t" x="1991.6" y="502">Edit GA Car</text><text class="t" x="1991.6" y="509.3">Coverages with</text><text class="t" x="1991.6" y="516.5">Reduced by / Added</text><text class="t" x="1991.6" y="523.7">carried over from</text><text class="t" x="1991.6" y="530.9">selection on liability</text><text class="t" x="1991.6" y="538.1">screen</text><text class="t" x="1991.6" y="545.3">(show top toast if</text><text class="t" x="1991.6" y="552.5">there were any</text><text class="t" x="1991.6" y="559.7">changes on liability)</text></g>
<g id="n-ga-car-modal"><rect class="nd" x="2105" y="517.3" width="68.5" height="28.7"/><text class="t" x="2139.2" y="528">GA Reduced by /</text><text class="t" x="2139.2" y="535.3">Added on Modal</text></g>
<g id="n-ga-car-opposite"><rect class="nd" x="2249.4" y="491.7" width="67.6" height="79.6"/><text class="t" x="2283.2" y="502.7">Edit GA Car</text><text class="t" x="2283.2" y="509.9">Coverages with</text><text class="t" x="2283.2" y="517.1">opposite Reduced by</text><text class="t" x="2283.2" y="524.3">/ Added from</text><text class="t" x="2283.2" y="531.5">selection on liability</text><text class="t" x="2283.2" y="538.7">screen</text><text class="t" x="2283.2" y="545.9">(show top toast if</text><text class="t" x="2283.2" y="553.1">there were any</text><text class="t" x="2283.2" y="560.3">changes on liability)</text></g>
<g id="n-edit-car-cov"><rect class="nd" x="2036.7" y="612.7" width="61.8" height="21.6"/><text class="t u" x="2067.6" y="623.6">Edit Car Coverages</text></g>
<g id="n-note-default-car"><rect class="nt" x="1936.8" y="685.7" width="60.7" height="39"/><text class="t s" x="1940" y="693">default coverages</text><text class="t s" x="1940" y="701">should be what is on</text><text class="t s" x="1940" y="709">the policy on last</text><text class="t s" x="1940" y="717">endorsement</text></g>
<g id="n-cov-increased"><polygon class="dm" points="2375.1,623.8 2414.6,593.3 2454.1,623.8 2414.6,654.3"/><text class="t" x="2414.6" y="613">coverage</text><text class="t" x="2414.6" y="620.3">increased</text><text class="t" x="2414.6" y="627.6">(e.g., lower coll</text><text class="t" x="2414.6" y="634.8">deductible)?</text></g>
<g id="n-vehicle-error"><rect class="rd" x="2376" y="527.3" width="77.4" height="29.4" rx="12"/><text class="t u" x="2414.7" y="538.7">Vehicle Photos Error</text><text class="t u" x="2414.7" y="546">Screen</text></g>
<g id="n-top-toast-2"><rect class="nt" x="2540.4" y="616.7" width="46.7" height="29"/><text class="t s" x="2544" y="624">Top Toast Flow</text><text class="t s" x="2544" y="631.3">Explained in Inset</text><text class="t s" x="2544" y="638.7">Above</text></g>
<g id="n-cars-coverage-list"><rect class="nd" x="2637.3" y="609.3" width="61.3" height="29"/><text class="t u" x="2668" y="616.7">Cars Coverage</text><text class="t u" x="2668" y="624">Vehicle List</text><text class="t u" x="2668" y="631.3">(with car edited)</text></g>

<!-- RIGHT REGION -->
<g id="n-renewal-sent"><polygon class="dm" points="2799.1,623 2827.8,599.6 2856.5,623 2827.8,646.4"/><text class="t" x="2827.8" y="619.3">renewal</text><text class="t" x="2827.8" y="626.5">offer sent?</text></g>
<g id="n-endo-only"><polygon class="dm" points="2799.1,484.5 2827.8,459 2856.5,484.5 2827.8,510"/><text class="t" x="2827.8" y="477.5">endo only</text><text class="t" x="2827.8" y="484.5">applies to</text><text class="t" x="2827.8" y="491.8">Renewal?</text></g>
<g id="n-full-pay-1"><polygon class="dm" points="2799.1,350.7 2827.8,327 2856.5,350.7 2827.8,374.4"/><text class="t" x="2827.8" y="350.7">full pay?</text></g>
<g id="n-full-pay-2"><polygon class="dm" points="2912.8,483.7 2941.5,460.7 2970.2,483.7 2941.5,506.7"/><text class="t" x="2941.5" y="483.7">full pay?</text></g>
<g id="n-full-pay-3"><polygon class="dm" points="2914,623 2942.7,599.6 2971.4,623 2942.7,646.4"/><text class="t" x="2942.7" y="623">full pay?</text></g>
<g id="n-due-1"><polygon class="dm" points="3020.5,177.3 3049.4,154 3078.3,177.3 3049.4,200.6"/><text class="t" x="3049.4" y="170">Due Today</text><text class="t" x="3049.4" y="177.3">is greater</text><text class="t" x="3049.4" y="184.6">than 0</text></g>
<g id="n-due-2"><polygon class="dm" points="3020.5,350.7 3049.4,327.3 3078.3,350.7 3049.4,374.1"/><text class="t" x="3049.4" y="343.4">Due Today</text><text class="t" x="3049.4" y="350.7">is greater</text><text class="t" x="3049.4" y="358">than 0</text></g>
<g id="n-rct-full"><rect class="nd" x="2916.4" y="149.3" width="50.2" height="56.7"/><text class="t u" x="2941.5" y="161.7">Renewal Offer</text><text class="t u" x="2941.5" y="169.7">Sent Last</text><text class="t u" x="2941.5" y="177.7">Current Term</text><text class="t u" x="2941.5" y="185.9">(full pay)</text><text class="t" x="2941.5" y="194">1/2</text></g>
<g id="n-rct-ppm"><rect class="nd" x="2917.2" y="323" width="50.2" height="55.5"/><text class="t u" x="2942.3" y="335">Renewal Offer</text><text class="t u" x="2942.3" y="343">Sent Last</text><text class="t u" x="2942.3" y="351">Current Term</text><text class="t u" x="2942.3" y="359">(pay per month)</text><text class="t" x="2942.3" y="367.2">1/2</text></g>
<g id="n-rto-last-full"><rect class="nd" x="2916.4" y="387.3" width="50.2" height="39.4"/><text class="t u" x="2941.5" y="395">Renewal Term</text><text class="t u" x="2941.5" y="403">Only</text><text class="t u" x="2941.5" y="411">Last Step</text><text class="t u" x="2941.5" y="419.2">(full pay)</text></g>
<g id="n-rto-last-ppm"><rect class="nd" x="3024" y="464" width="50.3" height="39.3"/><text class="t u" x="3049.2" y="471.7">Renewal Term</text><text class="t u" x="3049.2" y="479.8">Only</text><text class="t u" x="3049.2" y="487.9">Last Step</text><text class="t u" x="3049.2" y="496">(pay per month)</text></g>
<g id="n-nr-full"><rect class="nd" x="3024" y="533.3" width="50.3" height="39.4"/><text class="t u" x="3049.2" y="541">No Renewal</text><text class="t u" x="3049.2" y="549">Offer Sent</text><text class="t u" x="3049.2" y="557">Last Step</text><text class="t u" x="3049.2" y="565.2">(full pay)</text></g>
<g id="n-nr-ppm"><rect class="nd" x="3024" y="602.7" width="50.3" height="40"/><text class="t u" x="3049.2" y="610.3">No Renewal</text><text class="t u" x="3049.2" y="618.4">Offer Sent</text><text class="t u" x="3049.2" y="626.6">Last Step</text><text class="t u" x="3049.2" y="634.8">(pay per month)</text></g>
<g id="n-s2-pos-full"><rect class="nd" x="3180.8" y="56.7" width="50.2" height="56.6"/><text class="t u" x="3205.9" y="65">Renewal Offer</text><text class="t u" x="3205.9" y="73">Sent Last Step 2</text><text class="t u" x="3205.9" y="81">with POS</text><text class="t u" x="3205.9" y="89.2">payment</text><text class="t u" x="3205.9" y="97.4">(full pay)</text><text class="t u" x="3205.9" y="105.6">2/2</text></g>
<g id="n-s2-nopos-full"><rect class="nd" x="3181.6" y="149" width="50.2" height="56.7"/><text class="t u" x="3206.7" y="157.7">Renewal Offer</text><text class="t u" x="3206.7" y="165.7">Sent Last Step 2</text><text class="t u" x="3206.7" y="173.9">without POS</text><text class="t u" x="3206.7" y="182">payment</text><text class="t u" x="3206.7" y="190">(full pay)</text><text class="t u" x="3206.7" y="198">2/2</text></g>
<g id="n-s2-pos-ppm"><rect class="nd" x="3180.8" y="241.3" width="50.2" height="57"/><text class="t u" x="3205.9" y="249.7">Renewal Offer</text><text class="t u" x="3205.9" y="257.7">Sent Last Step 2</text><text class="t u" x="3205.9" y="265.9">with POS</text><text class="t u" x="3205.9" y="274.2">payment</text><text class="t u" x="3205.9" y="282.3">(pay per month)</text><text class="t u" x="3205.9" y="290.3">2/2</text></g>
<g id="n-s2-nopos-ppm"><rect class="nd" x="3180.8" y="320.5" width="50.2" height="60.5"/><text class="t u" x="3205.9" y="330.8">Renewal Offer</text><text class="t u" x="3205.9" y="338.9">Sent Last Step 2</text><text class="t u" x="3205.9" y="347">without POS</text><text class="t u" x="3205.9" y="355.2">payment</text><text class="t u" x="3205.9" y="363.3">(pay per month)</text><text class="t u" x="3205.9" y="371.2">2/2</text></g>
<g id="n-err-1"><polygon class="bl" points="3363.8,72.3 3425.3,72.3 3409,97.7 3347.5,97.7"/><text class="t" x="3386.4" y="81">POS Error</text><text class="t" x="3386.4" y="89.2">Handling</text></g>
<g id="n-err-2"><polygon class="bl" points="3363.8,164.6 3425.3,164.6 3409,190 3347.5,190"/><text class="t" x="3386.4" y="173.2">Non-POS Error</text><text class="t" x="3386.4" y="181.4">Handling</text></g>
<g id="n-err-3"><polygon class="bl" points="3363.8,257 3425.3,257 3409,282.4 3347.5,282.4"/><text class="t" x="3386.4" y="265.6">POS Error</text><text class="t" x="3386.4" y="273.8">Handling</text></g>
<g id="n-err-4"><polygon class="bl" points="3363.8,338 3425.3,338 3409,363.4 3347.5,363.4"/><text class="t" x="3386.4" y="346.6">Non-POS Error</text><text class="t" x="3386.4" y="354.8">Handling</text></g>
<g id="n-err-5"><polygon class="bl" points="3363.8,394.3 3425.3,394.3 3409,419.7 3347.5,419.7"/><text class="t" x="3386.4" y="402.9">Non-POS Error</text><text class="t" x="3386.4" y="411.1">Handling</text></g>
<g id="n-err-6"><polygon class="bl" points="3363.8,471 3425.3,471 3409,496.4 3347.5,496.4"/><text class="t" x="3386.4" y="479.6">Non-POS Error</text><text class="t" x="3386.4" y="487.8">Handling</text></g>
<g id="n-err-7"><polygon class="bl" points="3363.8,540 3425.3,540 3409,565.4 3347.5,565.4"/><text class="t" x="3386.4" y="548.6">Non-POS Error</text><text class="t" x="3386.4" y="556.8">Handling</text></g>
<g id="n-err-8"><polygon class="bl" points="3363.8,610 3425.3,610 3409,635.4 3347.5,635.4"/><text class="t" x="3386.4" y="618.6">Non-POS Error</text><text class="t" x="3386.4" y="626.8">Handling</text></g>
<g id="n-ty-1"><rect class="nd" x="3594.3" y="153.3" width="50.6" height="48.4"/><text class="t u" x="3619.6" y="161.3">Renewal Offer</text><text class="t u" x="3619.6" y="169.4">Sent</text><text class="t u" x="3619.6" y="177.6">Thank you</text><text class="t u" x="3619.6" y="185.7">Screen</text><text class="t u" x="3619.6" y="193.9">(full pay)</text></g>
<g id="n-ty-2"><rect class="nd" x="3597.6" y="327.3" width="50.2" height="48"/><text class="t u" x="3622.7" y="335.3">Renewal Offer</text><text class="t u" x="3622.7" y="343.5">Sent</text><text class="t u" x="3622.7" y="351.7">Thank you</text><text class="t u" x="3622.7" y="359.9">Screen</text><text class="t u" x="3622.7" y="368.1">(pay per month)</text></g>
<g id="n-ty-3"><rect class="nd" x="3597.6" y="383.3" width="50.2" height="47.4"/><text class="t u" x="3622.7" y="391">Renewal Term</text><text class="t u" x="3622.7" y="399">Only</text><text class="t u" x="3622.7" y="407">Thank you</text><text class="t u" x="3622.7" y="415.2">Screen</text><text class="t u" x="3622.7" y="423.3">(full pay)</text></g>
<g id="n-ty-4"><rect class="nd" x="3597.6" y="459.3" width="50.2" height="48"/><text class="t u" x="3622.7" y="467.6">Renewal Term</text><text class="t u" x="3622.7" y="475.7">Only</text><text class="t u" x="3622.7" y="483.8">Thank you</text><text class="t u" x="3622.7" y="491.9">Screen</text><text class="t u" x="3622.7" y="500">(pay per month)</text></g>
<g id="n-ty-5"><rect class="nd" x="3597.6" y="528.7" width="50.2" height="48"/><text class="t u" x="3622.7" y="536.7">Current Term</text><text class="t u" x="3622.7" y="544.8">Only</text><text class="t u" x="3622.7" y="552.9">Thank you</text><text class="t u" x="3622.7" y="561">Screen</text><text class="t u" x="3622.7" y="569.1">(full pay)</text></g>
<g id="n-ty-6"><rect class="nd" x="3597.6" y="598.7" width="50.2" height="48"/><text class="t u" x="3622.7" y="606.7">Current Term</text><text class="t u" x="3622.7" y="614.8">Only</text><text class="t u" x="3622.7" y="622.9">Thank you</text><text class="t u" x="3622.7" y="631">Screen</text><text class="t u" x="3622.7" y="639.1">(pay per month)</text></g>
<g id="n-policy-tab-end"><rect class="rd" x="3889.4" y="471" width="77.6" height="25.3" rx="12"/><text class="t" x="3928.2" y="483.7">Policy Tab</text></g>
<g id="n-email"><rect class="rd" x="3889.4" y="571" width="77.6" height="28.5" rx="12"/><text class="t" x="3928.2" y="581.8">Email sent with Dec Page</text><text class="t" x="3928.2" y="589.2">and ID Card</text></g>
<g id="n-sticky"><rect x="3488.4" y="20" width="53.4" height="53.3" fill="#e2e2e2"/><rect x="3487.4" y="19" width="53.4" height="53.3" fill="#9ee0a8"/><text class="t s" x="3491.8" y="25.7" style="font-size:3.2px">show the error screen</text><text class="t s" x="3491.8" y="31" style="font-size:3.2px">when the confirm</text><text class="t s" x="3491.8" y="36.3" style="font-size:3.2px">endorsement fails</text></g>
</svg>
